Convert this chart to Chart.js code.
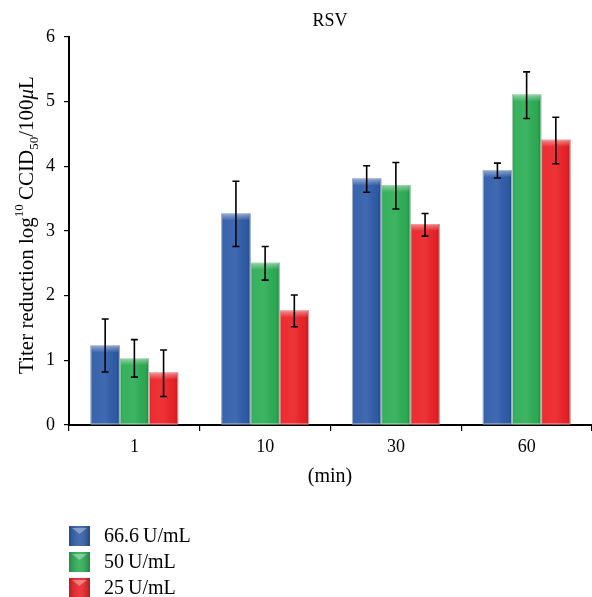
<!DOCTYPE html>
<html>
<head>
<meta charset="utf-8">
<script src="https://cdn.jsdelivr.net/npm/chart.js@4/dist/chart.umd.min.js"></script>
<style>
  html, body { margin: 0; padding: 0; background: #fff; }
  #wrap { width: 592px; height: 597px; }
</style>
</head>
<body>
<div id="wrap"><canvas id="c" width="592" height="597"></canvas></div>
<script>
// ---- data ----
const categories = ['1', '10', '30', '60'];
const seriesLabels = ['66.6\u2009U/mL', '50\u2009U/mL', '25\u2009U/mL'];
const seriesColors = ['#2F5DAA', '#2DAE55', '#EC2227'];
const values66 = [1.23, 3.27, 3.81, 3.94];
const values50 = [1.03, 2.51, 3.71, 5.11];
const values25 = [0.81, 1.77, 3.11, 4.41];
const errHigh66 = [1.64, 3.77, 4.01, 4.05];
const errLow66  = [0.82, 2.76, 3.60, 3.82];
const errHigh50 = [1.32, 2.76, 4.06, 5.46];
const errLow50  = [0.74, 2.24, 3.34, 4.74];
const errHigh25 = [1.16, 2.01, 3.27, 4.76];
const errLow25  = [0.44, 1.52, 2.92, 4.04];
const yTicks = [0, 1, 2, 3, 4, 5, 6];
const chartTitle = 'RSV';
const xTitle = '(min)';

const FONT = "'Liberation Serif', 'DejaVu Serif', serif";
const seriesValues = [values66, values50, values25];
const errHighs = [errHigh66, errHigh50, errHigh25];
const errLows = [errLow66, errLow50, errLow25];

const decorate = {
  id: 'decorate',
  afterDatasetsDraw(chart) {
    const ctx = chart.ctx;
    const ys = chart.scales.y;
    chart.data.datasets.forEach((ds, i) => {
      const meta = chart.getDatasetMeta(i);
      meta.data.forEach((bar) => {
        const l = bar.x - bar.width / 2, r = bar.x + bar.width / 2;
        const t = bar.y, b = bar.base;
        ctx.save();
        const g = ctx.createLinearGradient(l, 0, r, 0);
        g.addColorStop(0, 'rgba(0,0,0,0.18)');
        g.addColorStop(0.12, 'rgba(255,255,255,0.05)');
        g.addColorStop(0.5, 'rgba(255,255,255,0.08)');
        g.addColorStop(0.88, 'rgba(0,0,0,0.04)');
        g.addColorStop(1, 'rgba(0,0,0,0.25)');
        ctx.fillStyle = g;
        ctx.fillRect(l, t, r - l, b - t);
        const tg = ctx.createLinearGradient(0, t, 0, t + 7);
        tg.addColorStop(0, 'rgba(255,255,255,0.45)');
        tg.addColorStop(1, 'rgba(255,255,255,0)');
        ctx.fillStyle = tg;
        ctx.fillRect(l + 1, t + 1, r - l - 2, 7);
        ctx.strokeStyle = 'rgba(255,255,255,0.55)';
        ctx.lineWidth = 1;
        ctx.strokeRect(l + 0.5, t + 0.5, r - l - 1, b - t - 1);
        ctx.restore();
      });
    });
    ctx.save();
    ctx.strokeStyle = '#000';
    ctx.lineWidth = 1.6;
    chart.data.datasets.forEach((ds, i) => {
      const meta = chart.getDatasetMeta(i);
      meta.data.forEach((bar, j) => {
        const x = bar.x;
        const yh = ys.getPixelForValue(errHighs[i][j]);
        const yl = ys.getPixelForValue(errLows[i][j]);
        ctx.beginPath();
        ctx.moveTo(x, yh); ctx.lineTo(x, yl);
        ctx.moveTo(x - 3.5, yh); ctx.lineTo(x + 3.5, yh);
        ctx.moveTo(x - 3.5, yl); ctx.lineTo(x + 3.5, yl);
        ctx.stroke();
      });
    });
    ctx.restore();
  },
  afterDraw(chart) {
    const ctx = chart.ctx;
    ctx.save();
    ctx.fillStyle = '#000';
    ctx.font = '18px ' + FONT;
    ctx.textAlign = 'center';
    ctx.textBaseline = 'middle';
    ctx.fillText(chartTitle, 330, 21);
    ctx.font = '20px ' + FONT;
    ctx.fillText(xTitle, 330, 477);
    const segs = [
      { t: 'Titer reduction log', f: '21px ' + FONT, dy: 0 },
      { t: '10', f: '13px ' + FONT, dy: -10 },
      { t: '\u2009CCID', f: '21px ' + FONT, dy: 0 },
      { t: '50', f: '13px ' + FONT, dy: 5 },
      { t: '/100', f: '21px ' + FONT, dy: 0 },
      { t: '\u03bc', f: 'italic 21px ' + FONT, dy: 0 },
      { t: 'L', f: '21px ' + FONT, dy: 0 }
    ];
    let total = 0;
    segs.forEach(s => { ctx.font = s.f; s.w = ctx.measureText(s.t).width; total += s.w; });
    ctx.translate(33, 225);
    ctx.rotate(-Math.PI / 2);
    ctx.textAlign = 'left';
    ctx.textBaseline = 'alphabetic';
    let x = -total / 2;
    segs.forEach(s => { ctx.font = s.f; ctx.fillText(s.t, x, s.dy); x += s.w; });
    ctx.restore();
    ctx.save();
    const lx = 69, ly0 = 526, pitch = 26;
    seriesLabels.forEach((lab, i) => {
      const y = ly0 + i * pitch;
      ctx.fillStyle = seriesColors[i];
      ctx.fillRect(lx, y, 21, 20);
      const g = ctx.createLinearGradient(lx, 0, lx + 21, 0);
      g.addColorStop(0, 'rgba(0,0,0,0.2)');
      g.addColorStop(0.5, 'rgba(255,255,255,0.1)');
      g.addColorStop(1, 'rgba(0,0,0,0.25)');
      ctx.fillStyle = g;
      ctx.fillRect(lx, y, 21, 20);
      ctx.fillStyle = 'rgba(255,255,255,0.35)';
      ctx.beginPath();
      ctx.moveTo(lx + 3, y + 2); ctx.lineTo(lx + 18, y + 2); ctx.lineTo(lx + 10.5, y + 8);
      ctx.closePath(); ctx.fill();
      ctx.fillStyle = '#000';
      ctx.font = '20px ' + FONT;
      ctx.textAlign = 'left';
      ctx.textBaseline = 'middle';
      ctx.fillText(lab, 104, y + 11);
    });
    ctx.restore();
  }
};

new Chart(document.getElementById('c'), {
  type: 'bar',
  data: {
    labels: categories,
    datasets: seriesLabels.map((lab, i) => ({
      label: lab,
      data: seriesValues[i],
      backgroundColor: seriesColors[i],
      borderWidth: 0,
      barPercentage: 1.0,
      categoryPercentage: 0.67
    }))
  },
  options: {
    responsive: false,
    animation: false,
    events: [],
    layout: { padding: { top: 37, left: 0, right: 0, bottom: 102 } },
    plugins: {
      legend: { display: false },
      title: { display: false },
      tooltip: { enabled: false }
    },
    scales: {
      x: {
        offset: true,
        grid: { offset: true, drawOnChartArea: false, drawTicks: true, tickLength: 6, color: '#000', lineWidth: 1.2 },
        border: { display: true, color: '#000', width: 2 },
        ticks: { color: '#000', font: { family: FONT, size: 18 }, padding: 5 },
        afterFit: s => { s.height = 70; }
      },
      y: {
        min: 0, max: 6,
        afterBuildTicks: s => { s.ticks = yTicks.map(v => ({ value: v })); },
        grid: { drawOnChartArea: false, drawTicks: true, tickLength: 5, color: '#000', lineWidth: 1.2 },
        border: { display: true, color: '#000', width: 2 },
        ticks: { color: '#000', font: { family: FONT, size: 18 }, padding: 9 },
        afterFit: s => { s.width = 69; }
      }
    }
  },
  plugins: [decorate]
});
</script>
</body>
</html>
